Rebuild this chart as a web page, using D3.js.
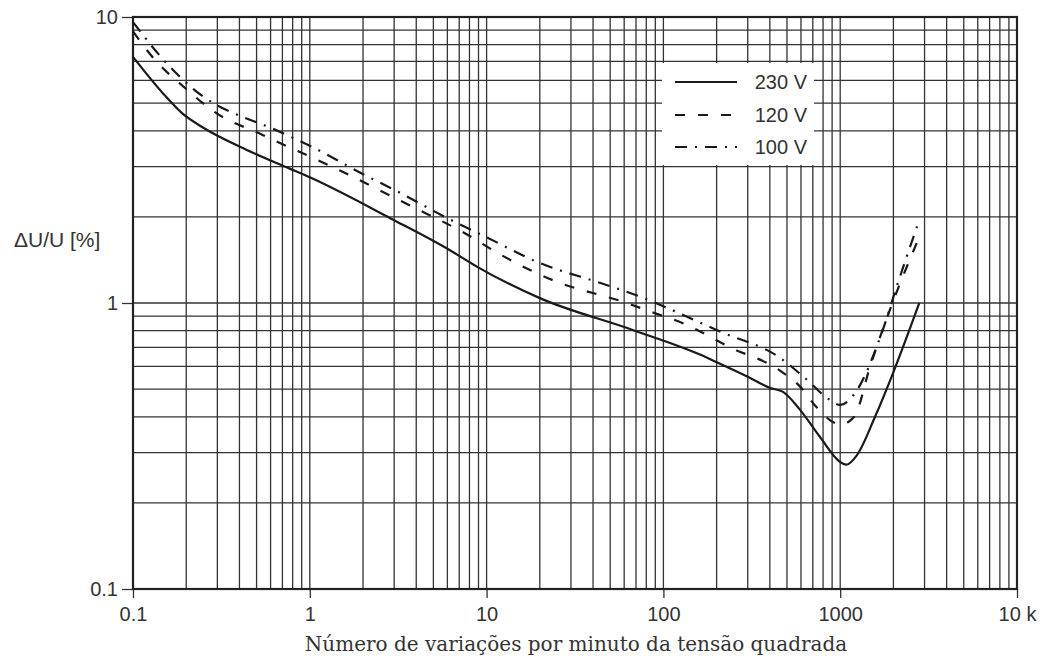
<!DOCTYPE html>
<html>
<head>
<meta charset="utf-8">
<script src="https://cdn.jsdelivr.net/npm/d3@7"></script>
<style>
  body { margin: 0; background: #fff; }
  .tick text { font-family: "Liberation Sans", Arial, sans-serif; font-size: 20px; fill: #333; }
</style>
</head>
<body>
<div id="chart"></div>
<script>
// values
const xTickValues = [0.1, 1, 10, 100, 1000, 10000];
const xTickLabels = ['0.1', '1', '10', '100', '1000', '10 k'];
const yTickValues = [0.1, 1, 10];
const yTickLabels = ['0.1', '1', '10'];

const x230 = [0.1, 0.148, 0.19, 0.25, 0.44, 0.77, 1, 2.85, 6.2, 8.8, 20, 67, 161, 201, 300, 400, 475, 593, 769, 1000, 1080, 1245, 1574, 1990, 2800];
const y230 = [7.25, 5.4, 4.6, 4.1, 3.43, 2.95, 2.75, 1.98, 1.53, 1.34, 1.04, 0.805, 0.66, 0.62, 0.552, 0.505, 0.489, 0.423, 0.34, 0.278, 0.272, 0.294, 0.40, 0.569, 1.0];

const x120 = [0.1, 0.13, 0.2, 0.284, 0.54, 1.39, 3.64, 7.45, 11.9, 16.9, 23.8, 62, 90, 129, 238, 457, 593, 740, 900, 1000, 1200, 1476, 1841, 2800];
const y120 = [8.9, 7.2, 5.6, 4.69, 3.87, 2.96, 2.20, 1.76, 1.48, 1.32, 1.20, 1.0, 0.92, 0.85, 0.70, 0.58, 0.51, 0.43, 0.385, 0.375, 0.40, 0.60, 0.89, 1.7];

const x100 = [0.1, 0.158, 0.216, 0.68, 0.98, 2.05, 3.03, 6.4, 9.4, 20, 45, 66, 214, 457, 631, 875, 1000, 1200, 1722, 2124, 2800];
const y100 = [9.6, 6.8, 5.65, 3.96, 3.57, 2.80, 2.48, 1.94, 1.73, 1.38, 1.17, 1.08, 0.79, 0.643, 0.547, 0.458, 0.44, 0.48, 0.79, 1.18, 1.95];

const seriesNames = ['230 V', '120 V', '100 V'];
const seriesDash = [null, '10,13', '12,8,2,8'];

const series = [
  { name: seriesNames[0], dash: seriesDash[0], pts: x230.map((v, i) => [v, y230[i]]) },
  { name: seriesNames[1], dash: seriesDash[1], pts: x120.map((v, i) => [v, y120[i]]) },
  { name: seriesNames[2], dash: seriesDash[2], pts: x100.map((v, i) => [v, y100[i]]) }
];

var margin = { top: 17, right: 26, bottom: 70, left: 133 };
var totalW = 1043, totalH = 659;
var width = totalW - margin.left - margin.right;   // 884
var height = totalH - margin.top - margin.bottom;  // 572

var x = d3.scaleLog().domain([0.1, 10000]).range([0, width]);
var y = d3.scaleLog().domain([0.1, 10]).range([height, 0]);

var svg = d3.select('#chart').append('svg')
  .attr('width', totalW)
  .attr('height', totalH)
  .append('g')
  .attr('transform', 'translate(' + margin.left + ',' + margin.top + ')');

// grid
var gridColor = '#333';
svg.append('g').selectAll('line')
  .data(x.ticks())
  .enter().append('line')
  .attr('x1', d => x(d)).attr('x2', d => x(d))
  .attr('y1', 0).attr('y2', height)
  .attr('stroke', gridColor).attr('stroke-width', 1.3);

svg.append('g').selectAll('line')
  .data(y.ticks())
  .enter().append('line')
  .attr('y1', d => y(d)).attr('y2', d => y(d))
  .attr('x1', 0).attr('x2', width)
  .attr('stroke', gridColor).attr('stroke-width', 1.3);

// legend background (hides grid)
var lg = svg.append('g').attr('transform', 'translate(' + (662 - margin.left) + ',' + (63 - margin.top) + ')');
lg.append('rect').attr('width', 152).attr('height', 102).attr('fill', '#fff');

// axes
var xAxis = d3.axisBottom(x)
  .tickValues(xTickValues)
  .tickFormat((d, i) => xTickLabels[i])
  .tickSize(9)
  .tickPadding(9);

var yAxis = d3.axisLeft(y)
  .tickValues(yTickValues)
  .tickFormat((d, i) => yTickLabels[i])
  .tickSize(11)
  .tickPadding(4);

var gx = svg.append('g')
  .attr('transform', 'translate(0,' + height + ')')
  .call(xAxis);
gx.select('.domain').remove();
gx.selectAll('.tick line').attr('stroke', '#333').attr('stroke-width', 1.3);

var gy = svg.append('g').call(yAxis);
gy.select('.domain').remove();
gy.selectAll('.tick line').attr('stroke', '#333').attr('stroke-width', 1.3);

// frame
svg.append('rect')
  .attr('width', width).attr('height', height)
  .attr('fill', 'none').attr('stroke', '#222').attr('stroke-width', 2.2);

// curves
var line = d3.line()
  .x(d => x(d[0]))
  .y(d => y(d[1]))
  .curve(d3.curveMonotoneX);

svg.selectAll('.curve')
  .data(series)
  .enter().append('path')
  .attr('class', 'curve')
  .attr('d', d => line(d.pts))
  .attr('fill', 'none')
  .attr('stroke', '#1a1a1a')
  .attr('stroke-width', 2.2)
  .attr('stroke-dasharray', d => d.dash);

// legend entries
var rows = [82, 115, 147];
series.forEach(function (s, i) {
  var yy = rows[i] - 63;
  lg.append('line')
    .attr('x1', 675 - 662).attr('x2', 737 - 662)
    .attr('y1', yy).attr('y2', yy)
    .attr('stroke', '#1a1a1a').attr('stroke-width', 2.2)
    .attr('stroke-dasharray', s.dash);
  lg.append('text')
    .attr('x', 807 - 662).attr('y', yy)
    .attr('dy', '0.36em')
    .attr('text-anchor', 'end')
    .style('font-family', '"Liberation Sans", Arial, sans-serif')
    .style('font-size', '20px')
    .attr('fill', '#333')
    .text(s.name);
});

// axis titles
svg.append('text')
  .attr('x', 576 - margin.left)
  .attr('y', 651 - margin.top)
  .attr('text-anchor', 'middle')
  .style('font-family', '"DejaVu Serif", "Liberation Serif", serif')
  .style('font-size', '20px')
  .attr('fill', '#333')
  .text('Número de variações por minuto da tensão quadrada');

svg.append('text')
  .attr('x', 14 - margin.left)
  .attr('y', 247 - margin.top)
  .style('font-family', '"Liberation Sans", Arial, sans-serif')
  .style('font-size', '21px')
  .attr('fill', '#333')
  .text('ΔU/U [%]');
</script>
</body>
</html>
